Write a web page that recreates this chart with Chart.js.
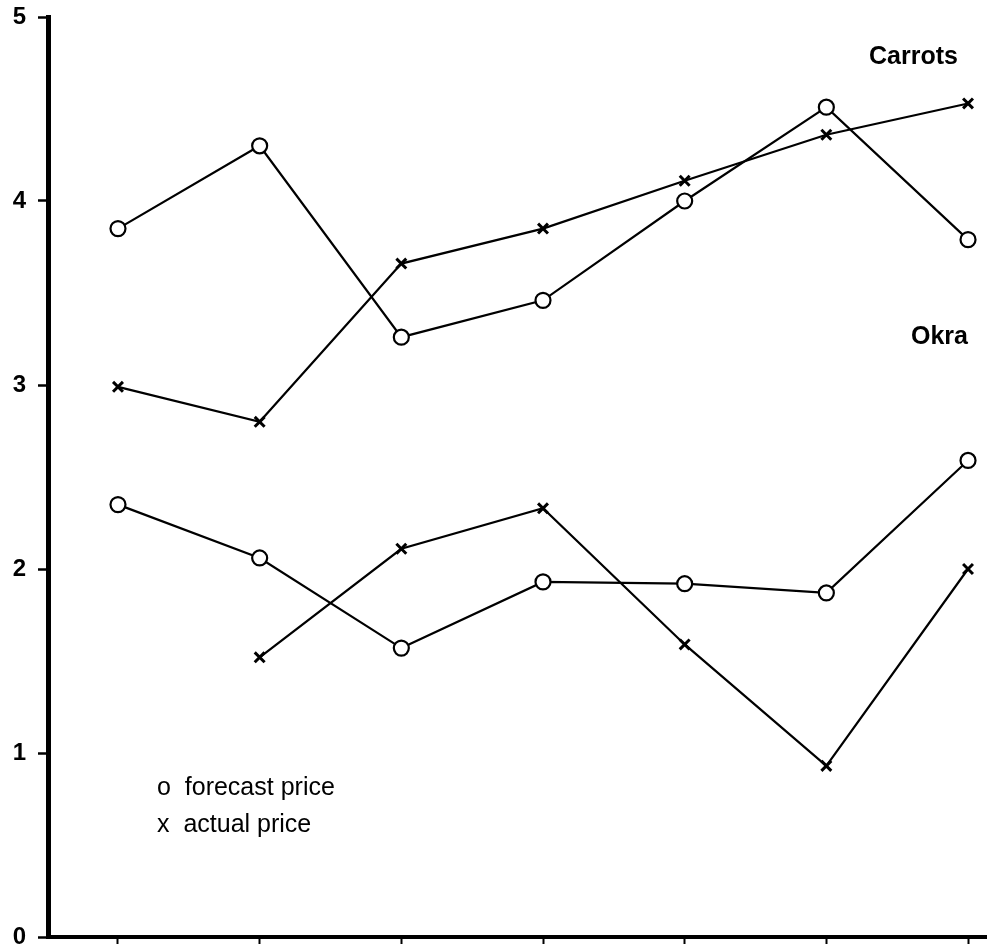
<!DOCTYPE html>
<html>
<head>
<meta charset="utf-8">
<script src="https://cdn.jsdelivr.net/npm/chart.js@4/dist/chart.umd.min.js"></script>
<style>
  html, body { margin: 0; padding: 0; background: #ffffff; }
  #wrap { width: 987px; height: 944px; position: relative; }
</style>
</head>
<body>
<div id="wrap"><canvas id="c" width="987" height="944"></canvas></div>
<script>
// ---- data ----
const periods = [1, 2, 3, 4, 5, 6, 7];
const carrotsForecast = [3.85, 4.30, 3.26, 3.46, 4.00, 4.51, 3.79];
const carrotsActual   = [2.99, 2.80, 3.66, 3.85, 4.11, 4.36, 4.53];
const okraForecast    = [2.35, 2.06, 1.57, 1.93, 1.92, 1.87, 2.59];
const okraActual      = [null, 1.52, 2.11, 2.33, 1.59, 0.93, 2.00];
const yTicks = [0, 1, 2, 3, 4, 5];
const seriesLabels = ['Carrots', 'Okra'];
const legendLabels = ['o  forecast price', 'x  actual price'];

function toPoints(arr) {
  return arr.map((v, i) => ({ x: i, y: v }));
}

const circleStyle = {
  pointStyle: 'circle', pointRadius: 7.5, pointBorderWidth: 2.2,
  pointBackgroundColor: '#ffffff', pointBorderColor: '#000000'
};
const crossStyle = {
  pointStyle: 'crossRot', pointRadius: 7, pointBorderWidth: 3,
  pointBackgroundColor: '#000000', pointBorderColor: '#000000'
};

const textPlugin = {
  id: 'texts',
  afterDatasetsDraw(chart) {
    const ctx = chart.ctx;
    ctx.save();
    ctx.fillStyle = '#000';
    ctx.textBaseline = 'middle';
    ctx.textAlign = 'left';
    ctx.font = 'bold 25px "Liberation Sans", Arial, sans-serif';
    ctx.fillText(seriesLabels[0], 869, 57);
    ctx.fillText(seriesLabels[1], 911, 337);
    ctx.font = '25px "Liberation Sans", Arial, sans-serif';
    ctx.fillText(legendLabels[0], 157, 788);
    ctx.fillText(legendLabels[1], 157, 825);
    ctx.restore();
  }
};

function zeroPad(scale) {
  scale.paddingTop = 0; scale.paddingBottom = 0;
  scale.paddingLeft = 0; scale.paddingRight = 0;
}

new Chart(document.getElementById('c'), {
  type: 'line',
  data: {
    datasets: [
      Object.assign({ label: 'Carrots forecast', data: toPoints(carrotsForecast), borderColor: '#000', borderWidth: 2.2 }, circleStyle),
      Object.assign({ label: 'Carrots actual', data: toPoints(carrotsActual), borderColor: '#000', borderWidth: 2.2 }, crossStyle),
      Object.assign({ label: 'Okra forecast', data: toPoints(okraForecast), borderColor: '#000', borderWidth: 2.2 }, circleStyle),
      Object.assign({ label: 'Okra actual', data: toPoints(okraActual), borderColor: '#000', borderWidth: 2.2, spanGaps: false }, crossStyle)
    ]
  },
  options: {
    responsive: false,
    animation: false,
    layout: { autoPadding: false, padding: { top: 17, right: 0, left: 0, bottom: 0 } },
    plugins: { legend: { display: false }, tooltip: { enabled: false } },
    scales: {
      x: {
        type: 'linear',
        min: -0.494,
        max: 6.134,
        afterBuildTicks(scale) { scale.ticks = periods.map((p, i) => ({ value: i })); },
        afterFit(scale) { scale.height = 7; zeroPad(scale); },
        ticks: { display: false },
        grid: { drawOnChartArea: false, drawTicks: true, tickLength: 7, tickColor: '#000', tickWidth: 2, color: '#000' },
        border: { display: true, color: '#000', width: 4 }
      },
      y: {
        min: 0,
        max: 5,
        afterBuildTicks(scale) { scale.ticks = yTicks.map(v => ({ value: v })); },
        afterFit(scale) { scale.width = 48; zeroPad(scale); },
        ticks: {
          color: '#000',
          padding: 12,
          font: { family: '"Liberation Sans", Arial, sans-serif', size: 24, weight: 'bold' }
        },
        grid: { drawOnChartArea: false, drawTicks: true, tickLength: 10, tickColor: '#000', tickWidth: 2.5, color: '#000' },
        border: { display: true, color: '#000', width: 5 }
      }
    }
  },
  plugins: [textPlugin]
});
</script>
</body>
</html>
